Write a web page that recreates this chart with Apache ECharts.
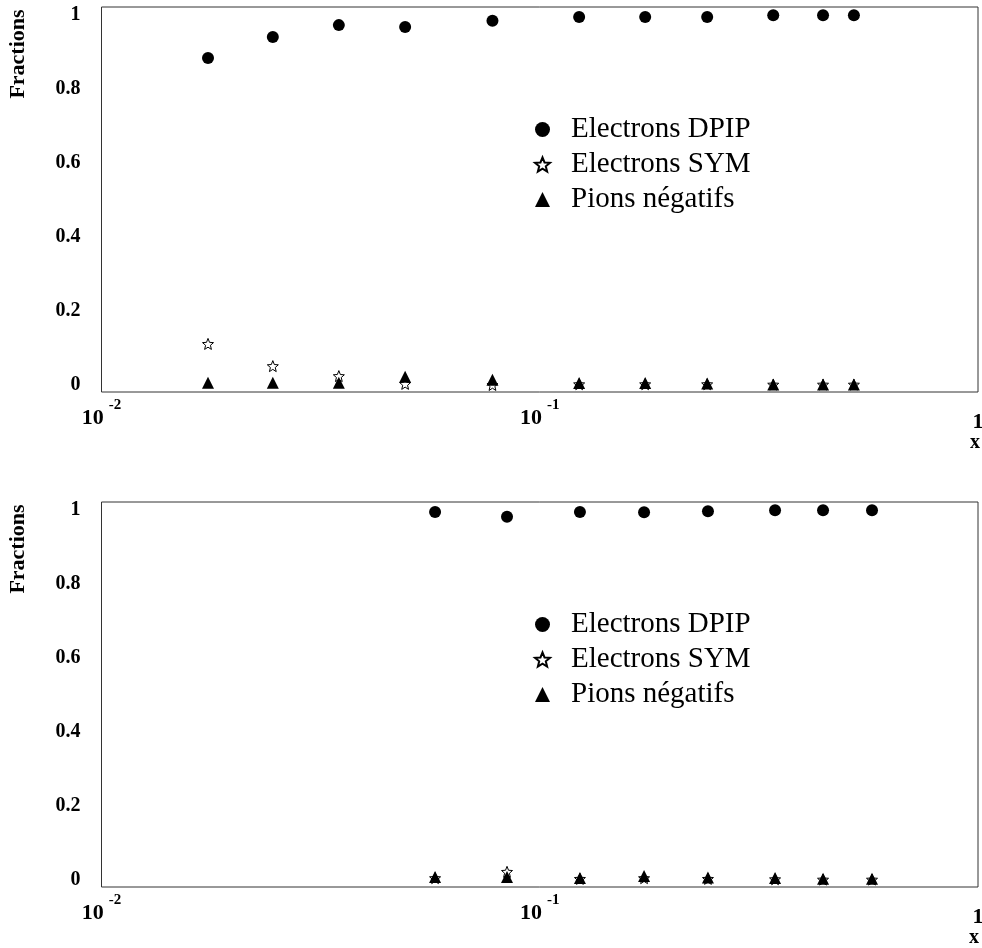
<!DOCTYPE html>
<html>
<head>
<meta charset="utf-8">
<script src="https://cdn.jsdelivr.net/npm/echarts@6/dist/echarts.min.js"></script>
<style>html,body{margin:0;padding:0;background:#fff}#c{width:982px;height:948px}</style>
</head>
<body>
<div id="c"></div>
<script>
// ---- data ----
var seriesNames = ['Electrons DPIP', 'Electrons SYM', 'Pions négatifs'];
var yTickValues = [0, 0.2, 0.4, 0.6, 0.8, 1];
// top panel
var xTop     = [0.0175, 0.0246, 0.0348, 0.0493, 0.078, 0.123, 0.174, 0.241, 0.341, 0.443, 0.521];
var dpipTop  = [0.884, 0.941, 0.973, 0.968, 0.985, 0.995, 0.995, 0.995, 1.0, 1.0, 1.0];
var symTop   = [0.111, 0.051, 0.024, 0.003, 0.0, 0.002, 0.002, 0.002, 0.001, 0.001, 0.001];
var pionTop  = [0.006, 0.006, 0.006, 0.022, 0.014, 0.005, 0.005, 0.004, 0.001, 0.001, 0.001];
// bottom panel
var xBottom    = [0.0577, 0.0842, 0.1235, 0.173, 0.242, 0.3443, 0.443, 0.573];
var dpipBottom = [0.995, 0.982, 0.995, 0.994, 0.997, 1.0, 1.0, 1.0];
var symBottom  = [0.005, 0.022, 0.003, 0.005, 0.003, 0.002, 0.001, 0.001];
var pionBottom = [0.008, 0.008, 0.005, 0.011, 0.007, 0.005, 0.003, 0.003];

var FONT = '"Liberation Serif", "Times New Roman", serif';
var starPath = 'path://M50,0 L62.9,32.2 L97.6,34.5 L70.9,56.8 L79.4,90.5 L50,72 L20.6,90.5 L29.1,56.8 L2.4,34.5 L37.1,32.2 Z';

function pairs(xs, ys) { return xs.map(function (x, i) { return [x, ys[i]]; }); }

function xAxisDef(idx) {
  return {
    type: 'log', logBase: 10, gridIndex: idx, min: 0.01, max: 1,
    axisLine: { show: false }, axisTick: { show: false }, splitLine: { show: false },
    minorTick: { show: false },
    axisLabel: {
      margin: 6,
      formatter: function (v) {
        if (Math.abs(v - 1) < 1e-9) return '{one|1}';
        return '{b|10}{s|' + Math.round(Math.log10(v)) + '}';
      },
      rich: {
        b: { fontFamily: FONT, fontWeight: 'bold', fontSize: 22, color: '#000', verticalAlign: 'bottom', padding: [9, 0, 0, 0] },
        s: { fontFamily: FONT, fontWeight: 'bold', fontSize: 15, color: '#000', verticalAlign: 'top', padding: [0, 0, 0, 5] },
        one: { fontFamily: FONT, fontWeight: 'bold', fontSize: 22, color: '#000', padding: [13, 0, 0, 0] }
      }
    }
  };
}
function yAxisDef(idx) {
  return {
    type: 'value', gridIndex: idx, min: -0.019, max: 1.022,
    axisLine: { show: false }, axisTick: { show: false }, splitLine: { show: false },
    axisLabel: {
      customValues: yTickValues, margin: 21, padding: [4, 0, 0, 0],
      fontFamily: FONT, fontWeight: 'bold', fontSize: 20, color: '#000',
      formatter: function (v) { return String(+v.toFixed(1)); }
    }
  };
}
function seriesFor(idx, xs, d, s, p) {
  return [
    { name: seriesNames[0], type: 'scatter', xAxisIndex: idx, yAxisIndex: idx, symbol: 'circle', symbolSize: 12,
      itemStyle: { color: '#000', opacity: 1 }, data: pairs(xs, d) },
    { name: seriesNames[1], type: 'scatter', xAxisIndex: idx, yAxisIndex: idx, symbol: starPath, symbolSize: 11,
      itemStyle: { color: '#fff', borderColor: '#000', borderWidth: 1, opacity: 1 }, data: pairs(xs, s) },
    { name: seriesNames[2], type: 'scatter', xAxisIndex: idx, yAxisIndex: idx, symbol: 'triangle', symbolSize: 12,
      itemStyle: { color: '#000', opacity: 1 }, data: pairs(xs, p) }
  ];
}
function legendDef(top) {
  return {
    left: 534, top: top, padding: 0, orient: 'vertical', itemWidth: 15, itemHeight: 15, itemGap: 6,
    data: seriesNames, selectedMode: false,
    textStyle: { fontFamily: FONT, fontSize: 29, color: '#000', padding: [0, 0, 0, 16] }
  };
}
function textG(txt, x, y, size, rot) {
  return { type: 'text', x: x, y: y, rotation: rot || 0,
    style: { text: txt, fontFamily: FONT, fontWeight: 'bold', fontSize: size, fill: '#000', align: 'center', verticalAlign: 'middle' } };
}

var chart = echarts.init(document.getElementById('c'), null, { renderer: 'canvas' });
chart.setOption({
  animation: false,
  backgroundColor: '#fff',
  grid: [
    { left: 101.5, right: 4, top: 7, height: 385, outerBoundsMode: 'none', containLabel: false, show: true, borderColor: '#333', borderWidth: 1, backgroundColor: 'transparent' },
    { left: 101.5, right: 4, top: 502, height: 385, outerBoundsMode: 'none', containLabel: false, show: true, borderColor: '#333', borderWidth: 1, backgroundColor: 'transparent' }
  ],
  xAxis: [xAxisDef(0), xAxisDef(1)],
  yAxis: [yAxisDef(0), yAxisDef(1)],
  legend: [legendDef(115), legendDef(610)],
  series: seriesFor(0, xTop, dpipTop, symTop, pionTop).concat(seriesFor(1, xBottom, dpipBottom, symBottom, pionBottom)),
  graphic: [
    textG('Fractions', 18.5, 54, 22, Math.PI / 2),
    textG('Fractions', 18.5, 549, 22, Math.PI / 2),
    textG('x', 975, 443, 20),
    textG('x', 974, 938, 20)
  ]
});
</script>
</body>
</html>
